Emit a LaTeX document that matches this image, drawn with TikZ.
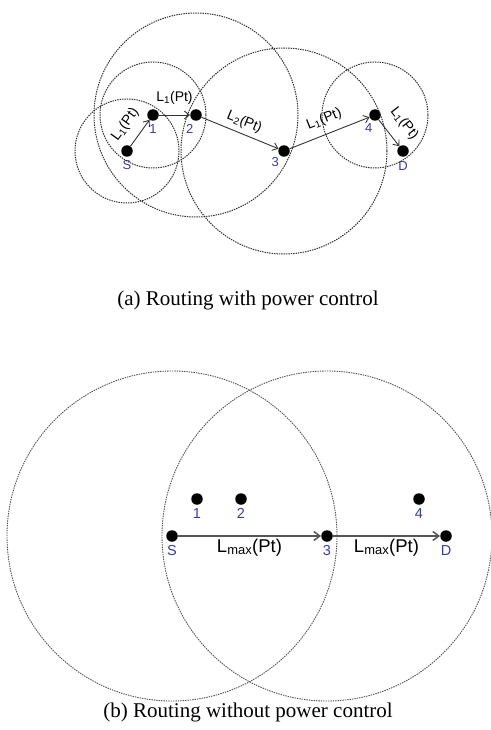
\documentclass[tikz,border=0pt]{standalone}
\usepackage{fontspec}
\setmainfont{Liberation Serif}
\newfontfamily\arialfont{Liberation Sans}
\usetikzlibrary{arrows.meta}
\definecolor{rangegray}{HTML}{303030}
\definecolor{hopgray}{HTML}{333333}
\definecolor{longhopgray}{HTML}{555555}
\definecolor{nodeblue}{HTML}{3B3BA2}

\begin{document}
\begin{tikzpicture}[
  x=1pt,
  y=-1pt,
  dot/.style={circle,fill=black,inner sep=0pt,minimum size=11.5pt},
  radiorange/.style={draw=rangegray,line width=1pt,dash pattern=on 1.4pt off 1pt},
  hop/.style={draw=hopgray,line width=0.9pt,-{Straight Barb[length=5pt,width=8pt]}},
  longhop/.style={draw=longhopgray,line width=1.5pt,-{Straight Barb[length=6pt,width=9pt]}},
  numlab/.style={text=nodeblue,inner sep=1pt,font=\arialfont\fontsize{13}{14}\selectfont},
  biglab/.style={text=nodeblue,inner sep=1pt,font=\arialfont\fontsize{14.5}{16}\selectfont},
  elab/.style={inner sep=#1,font=\arialfont\fontsize{14}{15}\selectfont},
  elab/.default=2pt,
  bigelab/.style={inner sep=2pt,font=\arialfont\fontsize{18.5}{20}\selectfont},
  caption/.style={font=\fontsize{21}{24}\selectfont}
]
  \useasboundingbox (0,0) rectangle (490,730);

  % (a) Hop-by-hop route, each node transmits just far enough.
  \node[dot,label={[numlab,label distance=2pt]below:S}] (aS) at (127,151) {};
  \node[dot,label={[numlab,label distance=2pt]below:1}] (a1) at (153,115) {};
  \node[dot,label={[numlab,label distance=2pt]-100:2}] (a2) at (196,115) {};
  \node[dot,label={[numlab,label distance=1pt]-125:3}] (a3) at (284,151) {};
  \node[dot,label={[numlab,label distance=2pt]-100:4}] (a4) at (375,115) {};
  \node[dot,label={[numlab,label distance=3pt]below:D}] (aD) at (403,151) {};

  % Transmission ranges around the relays.
  \draw[radiorange] (aS) circle[radius=52];
  \draw[radiorange] (a1) circle[radius=53];
  \draw[radiorange] (a2) circle[radius=102];
  \draw[radiorange] (a3) circle[radius=103];
  \draw[radiorange] (a4) circle[radius=53];

  \draw[hop] (aS) -- node[sloped,above,elab=10pt,pos=0.45] {L\textsubscript{1}(Pt)} (a1);
  \draw[hop] (a1) -- node[above,elab=10pt] {L\textsubscript{1}(Pt)} (a2);
  \draw[hop] (a2) -- node[sloped,above,elab=4.5pt] {L\textsubscript{2}(Pt)} (a3);
  \draw[hop] (a3) -- node[sloped,above,elab=7.5pt] {L\textsubscript{1}(Pt)} (a4);
  \draw[hop] (a4) -- node[sloped,above,elab=11pt,pos=0.55] {L\textsubscript{1}(Pt)} (aD);

  \node[caption] (capa) at (248,300) {(a) Routing with power control};

  % (b) Fixed maximum power, relays 1, 2 and 4 are skipped.
  \node[dot,label={[biglab,label distance=2pt]below:S}] (bS) at (172,536) {};
  \node[dot,label={[biglab,label distance=2pt]below:1}] (b1) at (197,499) {};
  \node[dot,label={[biglab,label distance=2pt]below:2}] (b2) at (241,499) {};
  \node[dot,label={[biglab,label distance=2pt]below:3}] (b3) at (327,536) {};
  \node[dot,label={[biglab,label distance=2pt]below:4}] (b4) at (419,499) {};
  \node[dot,label={[biglab,label distance=2pt]below:D}] (bD) at (446,536) {};

  \foreach \p in {bS,b3} {
    \draw[radiorange,line width=0.9pt,draw=rangegray!85] (\p) circle[radius=165];
  }

  \draw[longhop] (bS) -- node[below,bigelab] {L\textsubscript{max}(Pt)} (b3);
  \draw[longhop] (b3) -- node[below,bigelab] {L\textsubscript{max}(Pt)} (bD);

  \node[caption] (capb) at (248,712) {(b) Routing without power control};
\end{tikzpicture}
\end{document}
